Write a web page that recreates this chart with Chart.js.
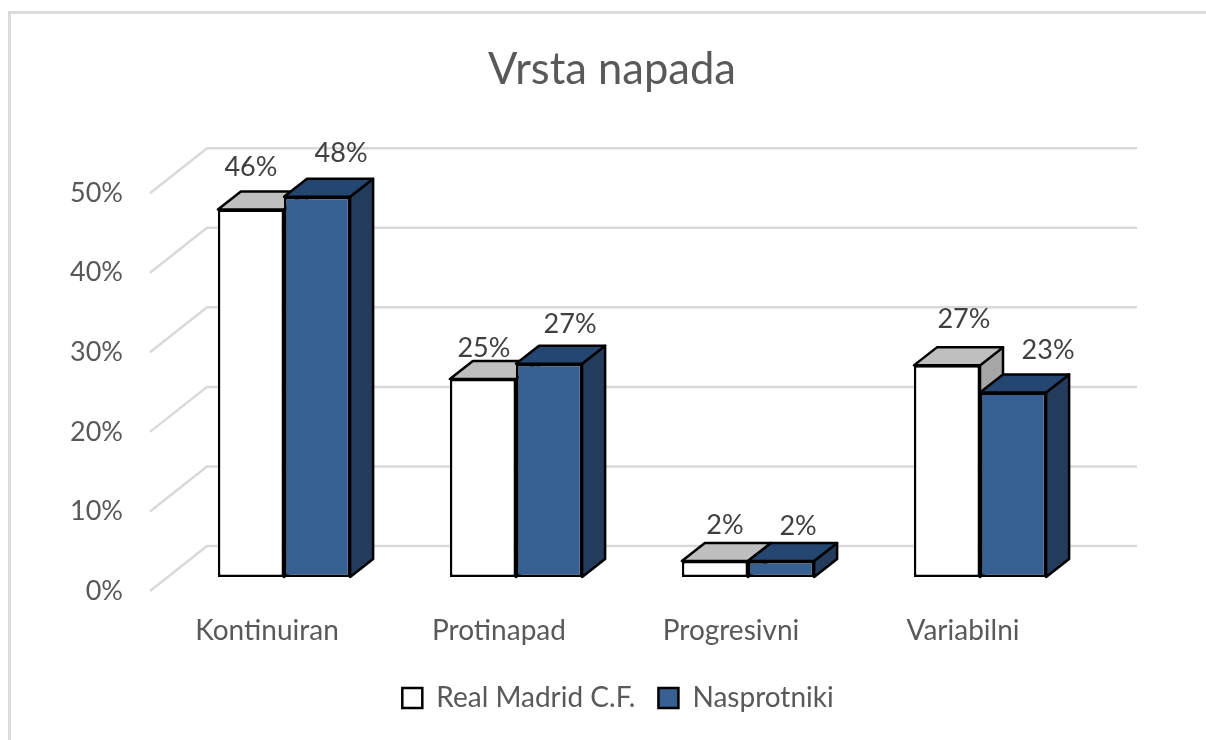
<!DOCTYPE html>
<html>
<head>
<meta charset="utf-8">
<script src="https://cdn.jsdelivr.net/npm/chart.js@4"></script>
<style>
  html, body { margin: 0; padding: 0; background: #fff; overflow: hidden; }
  #wrap { position: relative; width: 1206px; height: 740px; }
  #frame { position: absolute; left: 8px; top: 11px; width: 1300px; height: 900px; border: 3px solid #dcdcdc; }
</style>
</head>
<body>
<div id="wrap">
  <canvas id="napadChart" width="1206" height="740"></canvas>
  <div id="frame"></div>
</div>
<script>
var categories = ['Kontinuiran', 'Protinapad', 'Progresivni', 'Variabilni'];
var realMadrid = [46.2, 24.9, 2, 26.6];
var nasprotniki = [47.8, 26.8, 2, 23.2];
var yTicks = [0, 10, 20, 30, 40, 50];

// where Excel left each data label, relative to the top centre of the bar
var realLabelNudge = [[0, -42], [1, -31], [10, -36], [17, -46]];
var oppLabelNudge = [[24, -43], [21, -39], [17, -35], [35, -42]];

var textColor = '#595959';
var fontName = 'Lato, sans-serif';

var faces = [
  { top: '#bfbfbf', side: '#a6a6a6' },
  { top: '#254671', side: '#233c5c' }
];

function poly(c, pts, fill) {
  c.beginPath();
  c.moveTo(pts[0][0], pts[0][1]);
  for (var i = 1; i < pts.length; i++) c.lineTo(pts[i][0], pts[i][1]);
  c.closePath();
  c.fillStyle = fill;
  c.fill();
  c.strokeStyle = '#000';
  c.lineWidth = 2.5;
  c.lineJoin = 'round';
  c.stroke();
}

function drawFaces(chart, index) {
  var c = chart.ctx, dx = 23, dy = 18;
  var f = faces[index];
  c.save();
  chart.getDatasetMeta(index).data.forEach(function (bar) {
    var l = bar.x - bar.width / 2, r = bar.x + bar.width / 2;
    poly(c, [[r, bar.y], [r + dx, bar.y - dy], [r + dx, bar.base - dy], [r, bar.base]], f.side);
    poly(c, [[l, bar.y], [l + dx, bar.y - dy], [r + dx, bar.y - dy], [r, bar.y]], f.top);
  });
  c.restore();
}

var depth3d = {
  id: 'depth3d',
  afterLayout: function (chart) {
    // title and legend are centred on the picture, not on the plot
    chart.titleBlock.left += 64;
    chart.titleBlock.right += 64;
    chart.legend.left += 70;
    chart.legend.right += 70;
  },
  beforeDatasetsDraw: function (chart) {
    // back wall grid, offset from the plane the bars stand on
    var c = chart.ctx, y = chart.scales.y, right = 1137;
    c.save();
    c.strokeStyle = '#d9d9d9';
    c.lineWidth = 2.5;
    yTicks.forEach(function (t) {
      var p = y.getPixelForValue(t);
      c.beginPath();
      c.moveTo(150, p + 14);
      c.lineTo(207, p - 31);
      c.lineTo(right, p - 31);
      c.stroke();
    });
    c.restore();
  },
  beforeDatasetDraw: function (chart, args) {
    // chart.js paints the last dataset first, the blue bars must go on top
    if (args.index === 1) return false;
    drawFaces(chart, 0);
  },
  afterDatasetDraw: function (chart, args) {
    if (args.index !== 0) return;
    drawFaces(chart, 1);
    chart.getDatasetMeta(1).controller.draw();
  },
  afterDatasetsDraw: function (chart) {
    var c = chart.ctx;
    c.save();
    c.font = '27px ' + fontName;
    c.fillStyle = '#404040';
    c.textAlign = 'center';
    c.textBaseline = 'middle';
    [realLabelNudge, oppLabelNudge].forEach(function (nudge, ds) {
      chart.getDatasetMeta(ds).data.forEach(function (bar, i) {
        var v = chart.data.datasets[ds].data[i];
        c.fillText(Math.round(v) + '%', bar.x + nudge[i][0], bar.y + nudge[i][1]);
      });
    });
    c.restore();
  }
};

var ctx = document.getElementById('napadChart');
var napadChart = new Chart(ctx, {
  type: 'bar',
  data: {
    labels: categories,
    datasets: [
      {
        label: 'Real Madrid C.F.',
        data: realMadrid,
        backgroundColor: '#ffffff',
        borderColor: '#000000',
        borderWidth: 2.5,
        borderSkipped: false
      },
      {
        label: 'Nasprotniki',
        data: nasprotniki,
        backgroundColor: '#376092',
        borderColor: '#000000',
        borderWidth: 2.5,
        borderSkipped: false
      }
    ]
  },
  plugins: [depth3d],
  options: {
    responsive: false,
    animation: false,
    layout: { padding: { left: 0, right: 110, top: 0, bottom: 18 } },
    datasets: { bar: { categoryPercentage: 0.57, barPercentage: 1 } },
    plugins: {
      title: {
        display: true,
        text: 'Vrsta napada',
        color: textColor,
        font: { family: fontName, size: 43.5, weight: 'normal' },
        padding: { top: 44, bottom: 83 }
      },
      legend: {
        display: true,
        position: 'bottom',
        labels: {
          color: textColor,
          font: { family: fontName, size: 28 },
          boxWidth: 20,
          boxHeight: 20,
          padding: 23
        }
      },
      tooltip: { enabled: false }
    },
    scales: {
      x: {
        grid: { display: false },
        border: { display: false },
        afterFit: function (s) { s.height = 84; },
        ticks: {
          color: textColor,
          font: { family: fontName, size: 28 },
          labelOffset: -17,
          padding: 29,
          maxRotation: 0
        }
      },
      y: {
        min: 0,
        max: 50,
        grid: { display: false, drawTicks: false },
        border: { display: false },
        afterFit: function (s) { s.width = 168; },
        ticks: {
          stepSize: 10,
          color: textColor,
          font: { family: fontName, size: 27 },
          labelOffset: 14,
          padding: 45,
          callback: function (v) { return v + '%'; }
        }
      }
    }
  }
});
</script>
</body>
</html>
